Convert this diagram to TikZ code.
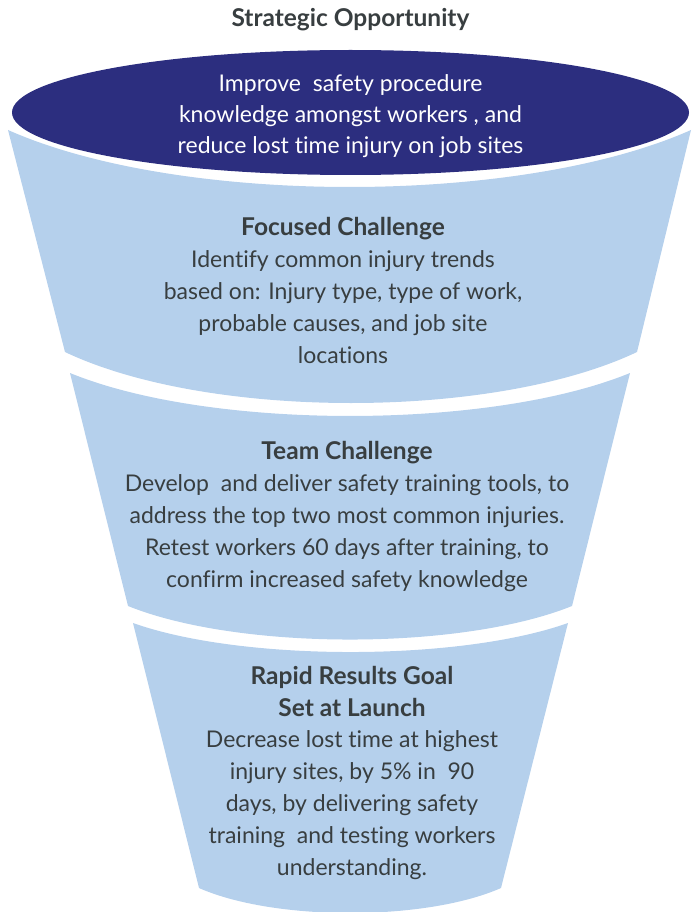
\documentclass[tikz,border=0pt]{standalone}
\usepackage{fontspec}
\setmainfont{Lato}[Ligatures={NoCommon}]
\definecolor{navy}{RGB}{44,46,127}
\definecolor{lblue}{RGB}{181,208,236}
\definecolor{txt}{RGB}{56,62,64}
\newcommand{\hd}[1]{{\fontsize{24.5}{31.8}\bfseries #1}}
\begin{document}
\begin{tikzpicture}[x=1pt,y=-1pt,
  seg/.style={fill=lblue,draw=none},
  body/.style={align=center,inner sep=0pt,text=txt,font=\fontsize{23}{31.8}\selectfont,anchor=base}]
\useasboundingbox (0,0) rectangle (692,912);
\clip (0,0) rectangle (692,912);
% top ellipse
\fill[navy] (350.5,112.5) ellipse [x radius=338.5, y radius=62.5];
% segment 1
\path[seg] (8,130) -- (65,352) .. controls (208,420) and (494,420) .. (637,352)
  -- (691,130) .. controls (520,206) and (179,206) .. cycle;
% segment 2
\path[seg] (70,373) -- (128,606) .. controls (239,650.7) and (461,650.7) .. (572,606)
  -- (630,373) .. controls (490,430.3) and (210,430.3) .. cycle;
% segment 3
\path[seg] (133,623) -- (199,888) .. controls (274.5,921.3) and (425.5,921.3) .. (501,888)
  -- (568,623) .. controls (459,661.7) and (242,661.7) .. cycle;
% texts
\node[body,font=\fontsize{24.5}{31.8}\bfseries] (title) at (350.5,26.5) {Strategic Opportunity};
\node[body,text=white,font=\fontsize{23}{31}\selectfont] (opp) at (350.5,154) {Improve\ \ safety procedure\\knowledge amongst workers , and\\reduce lost time injury on job sites};
\node[body] (focus) at (343,363) {\hd{Focused Challenge}\\Identify common injury trends\\based on: Injury type, type of work,\\probable causes, and job site\\locations};
\node[body] (team) at (347,587) {\hd{Team Challenge}\\Develop\ \ and deliver safety training tools, to\\address the top two most common injuries.\\Retest workers 60 days after training, to\\confirm increased safety knowledge};
\node[body] (rapid) at (352,875) {\hd{Rapid Results Goal}\\\hd{Set at Launch}\\Decrease lost time at highest\\injury sites, by 5\% in\ \ 90\\days, by delivering safety\\training\ \ and testing workers\\understanding.};
\end{tikzpicture}
\end{document}
